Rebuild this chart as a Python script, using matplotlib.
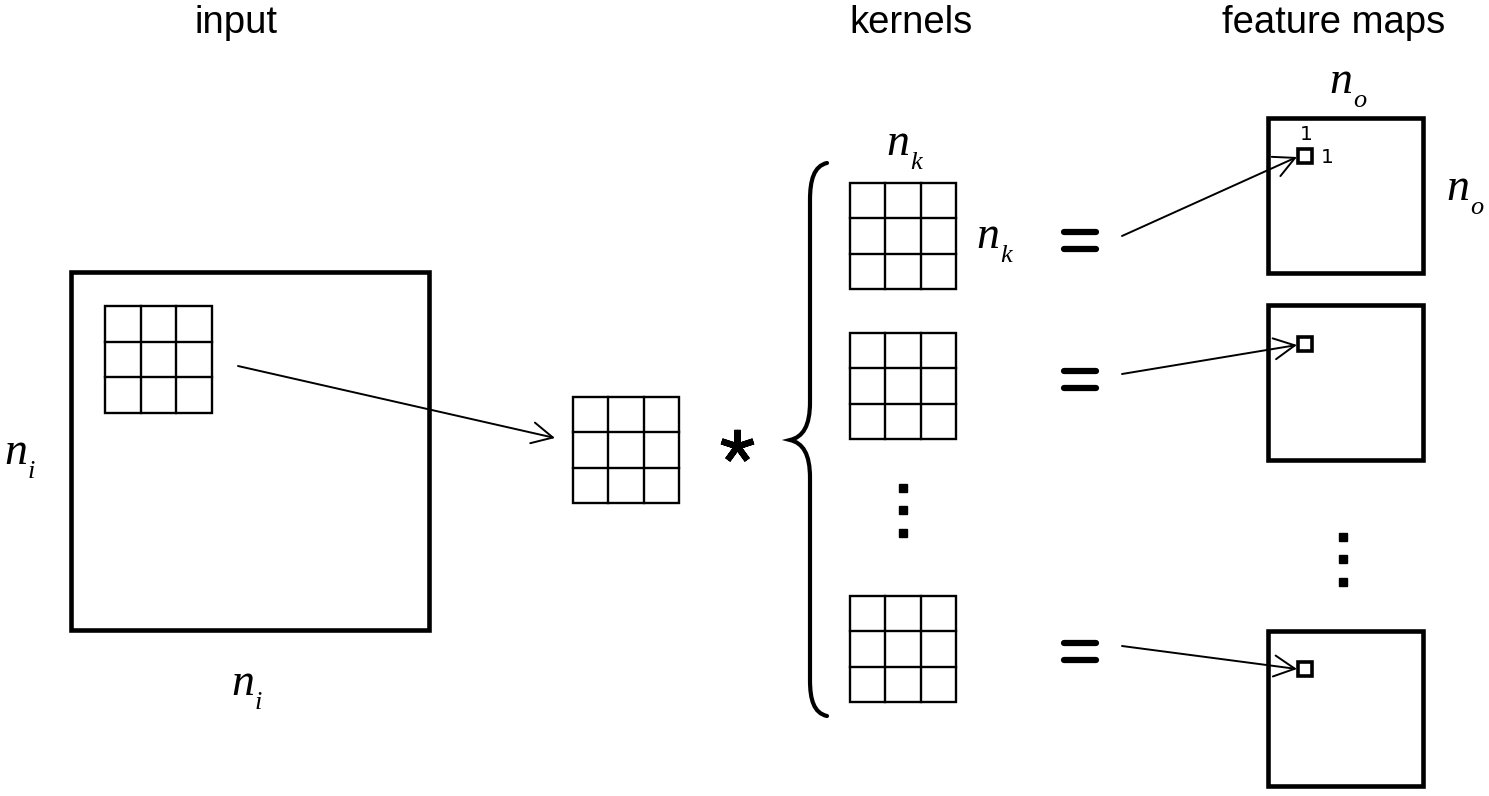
import matplotlib

matplotlib.use("Agg")
import matplotlib.pyplot as plt  # noqa: E402
from matplotlib.patches import Rectangle, PathPatch  # noqa: E402
from matplotlib.path import Path  # noqa: E402

# column titles and labels
titles = ["input", "kernels", "feature maps"]
title_x = [236, 911, 1334]
dim_labels = [("n", "i"), ("n", "k"), ("n", "o")]
unit_label = "1"
n_grid = 3  # 3x3 kernel

# boxes: (left, top, size) in pixel coordinates
input_box = (71, 272, 358)
input_patch = (105, 306, 107)
patch_copy = (573, 397, 106)
kernels = [(850, 183, 106), (850, 333, 106), (850, 596, 106)]
fmaps = [(1268, 118, 155), (1268, 305, 155), (1268, 631, 155)]
fmap_cells = [(1298, 149, 14), (1298, 337, 14), (1298, 662, 14)]
eq_y = [240, 379, 651]
eq_arrow_start = [(1122, 236), (1122, 374), (1122, 646)]
eq_arrow_end = [(1297, 157), (1297, 345), (1297, 669)]

W, H = 1489, 796
fig = plt.figure(figsize=(W / 100, H / 100), dpi=100)
ax = fig.add_axes([0, 0, 1, 1])
ax.set_xlim(0, W)
ax.set_ylim(H, 0)
ax.axis("off")


def square(x, y, s, lw):
    ax.add_patch(Rectangle((x, y), s, s, fill=False, lw=lw, ec="black",
                           joinstyle="miter"))


def grid(x, y, s, lw=1.7):
    square(x, y, s, lw)
    step = s / n_grid
    for k in range(1, n_grid):
        ax.plot([x + k * step] * 2, [y, y + s], color="black", lw=lw)
        ax.plot([x, x + s], [y + k * step] * 2, color="black", lw=lw)


def arrow(p0, p1, lw=1.4):
    ax.annotate("", xy=p1, xytext=p0,
                arrowprops=dict(arrowstyle="->,head_length=0.75,head_width=0.38",
                                lw=lw, color="black", shrinkA=0, shrinkB=0,
                                mutation_scale=20))


def dim(x, y, base, sub):
    # italic "n" with a low subscript, x/y = baseline of the n
    ax.text(x, y, base, fontsize=33, family="Liberation Serif", style="italic",
            va="baseline", ha="left")
    ax.text(x + 24, y + 14, sub, fontsize=19, family="Liberation Serif",
            style="italic", va="baseline", ha="left")


# titles
for t, x in zip(titles, title_x):
    ax.text(x, 33, t, fontsize=27.5, family="Liberation Sans", ha="center",
            va="baseline")

# input
square(*input_box, lw=3.3)
grid(*input_patch)
arrow((238, 366), (555, 438))
grid(*patch_copy)
dim(4, 464, *dim_labels[0])
dim(231, 695, *dim_labels[0])

# convolution sign
ax.plot([737], [446], marker=(5, 2, 0), ms=24, mew=4.5, color="black")

# brace
verts = [(827, 163), (814, 166), (810, 180), (810, 200),
         (810, 402),
         (810, 426), (803, 437), (790, 440),
         (803, 443), (810, 454), (810, 478),
         (810, 680),
         (810, 700), (814, 713), (827, 716)]
codes = [Path.MOVETO, Path.CURVE4, Path.CURVE4, Path.CURVE4,
         Path.LINETO,
         Path.CURVE4, Path.CURVE4, Path.CURVE4,
         Path.CURVE4, Path.CURVE4, Path.CURVE4,
         Path.LINETO,
         Path.CURVE4, Path.CURVE4, Path.CURVE4]
ax.add_patch(PathPatch(Path(verts, codes), fill=False, lw=3.0, ec="black",
                       capstyle="round"))

# kernels
for k in kernels:
    grid(*k)
dim(886, 155, *dim_labels[1])
dim(976, 248, *dim_labels[1])
ax.plot([903, 903, 903], [488, 510, 533], "s", ms=5.5, color="black")

# equals signs
for y in eq_y:
    for dy in (-8.5, 8.5):
        ax.plot([1064, 1096], [y + dy] * 2, color="black", lw=4.5,
                solid_capstyle="round")

# feature maps
for (fx, fy, fs), c, p0, p1 in zip(fmaps, fmap_cells, eq_arrow_start, eq_arrow_end):
    square(fx, fy, fs, lw=3.3)
    square(*c, lw=2.6)
    arrow(p0, p1)
ax.plot([1343, 1343, 1343], [537, 559, 582], "s", ms=5.5, color="black")
dim(1329, 93, *dim_labels[2])
dim(1446, 200, *dim_labels[2])

# unit labels on the output cell
ax.text(1306, 140, unit_label, fontsize=14.5, family="DejaVu Sans",
        ha="center", va="baseline")
ax.text(1321, 163, unit_label, fontsize=14.5, family="DejaVu Sans",
        ha="left", va="baseline")

fig.savefig("out.png", dpi=100)
